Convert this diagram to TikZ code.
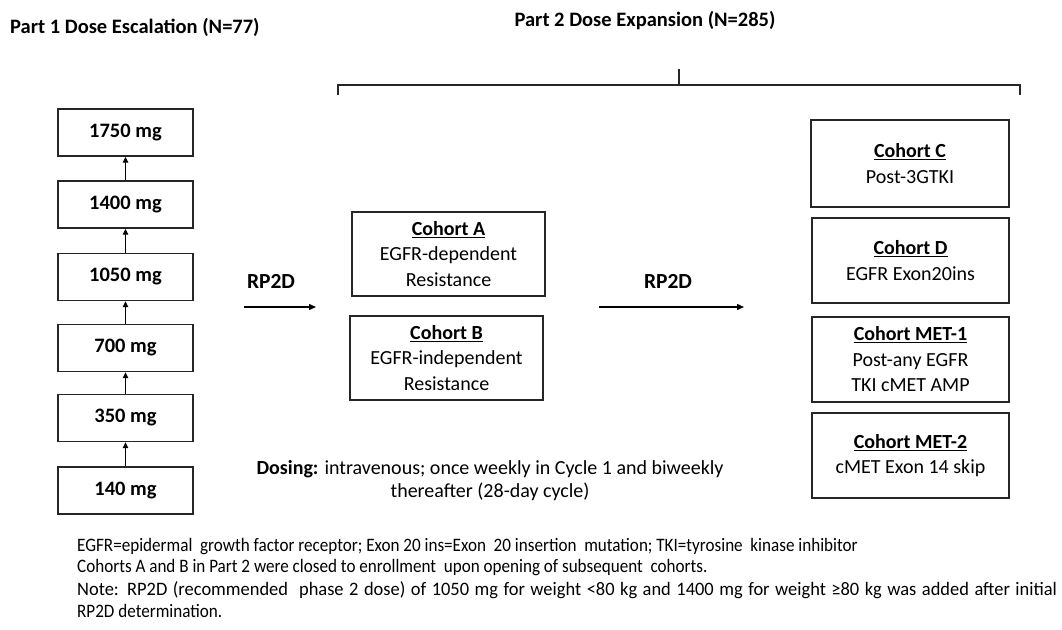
\documentclass[tikz,border=0pt]{standalone}
\usepackage{fontspec}
\setmainfont{Carlito}
\usetikzlibrary{arrows.meta}
\newcommand\ftfont{\fontsize{19}{21}\selectfont}
\newcommand\ftline[3]{\scalebox{#1}[1]{\makebox[#2pt][s]{\ftfont #3}}}
\newcommand\ftnat[1]{\scalebox{0.9}[1]{\ftfont #1}}
\begin{document}
\begin{tikzpicture}[x=1pt,y=-1pt,
  dosebox/.style={draw=black!85,line width=1.3pt,minimum width=135pt,minimum height=47pt,inner sep=0pt,font=\fontsize{20.5}{25}\selectfont\bfseries},
  cbox/.style={draw=black!85,line width=1.3pt,inner sep=0pt,align=center,font=\fontsize{20}{25.5}\selectfont},
  uparrow/.style={-{Triangle[length=6pt,width=5.5pt]},line width=1.3pt},
  rarrow/.style={-{Triangle[length=7pt,width=6pt]},line width=1.3pt},
  hdr/.style={font=\fontsize{20.5}{24}\selectfont\bfseries,inner sep=0pt},
  lbl/.style={font=\fontsize{21.5}{24}\selectfont\bfseries,inner sep=0pt},
  foot/.style={anchor=west,inner sep=0pt,font=\ftfont}]
\useasboundingbox (0,0) rectangle (1062,629);
\fill[white] (0,0) rectangle (1062,629);
% headers
\node[hdr,anchor=west] (h1) at (10,27) {Part 1 Dose Escalation (N=77)};
\node[hdr] (h2) at (645,21) {Part 2 Dose Expansion (N=285)};
% bracket
\coordinate (bl) at (338,95);
\coordinate (br) at (1020,95);
\coordinate (bt) at (679,69);
\draw[line width=1.3pt,black!85] (bl) -- (338,85) -- (1020,85) -- (br);
\draw[line width=1.3pt,black!85] (bt) -- (679,85);
% dose boxes
\node[dosebox] (d1750) at (125.5,132.5) {1750 mg};
\node[dosebox] (d1400) at (125.5,204.5) {1400 mg};
\node[dosebox] (d1050) at (125.5,277) {1050 mg};
\node[dosebox] (d700) at (125.5,348) {700 mg};
\node[dosebox] (d350) at (125.5,418) {350 mg};
\node[dosebox] (d140) at (125.5,490.5) {140 mg};
\draw[uparrow] (d140) -- (d350);
\draw[uparrow] (d350) -- (d700);
\draw[uparrow] (d700) -- (d1050);
\draw[uparrow] (d1050) -- (d1400);
\draw[uparrow] (d1400) -- (d1750);
% RP2D 1
\node[lbl] (rp1) at (271,281) {RP2D};
\coordinate (r1s) at (244,307);
\coordinate (r1e) at (316,307);
\draw[rarrow] (r1s) -- (r1e);
% cohorts A, B
\node[cbox,minimum width=193pt,minimum height=84pt] (cA) at (448.5,254) {\underline{\textbf{Cohort A}}\\EGFR-dependent\\Resistance};
\node[cbox,minimum width=193pt,minimum height=84pt] (cB) at (446.5,358) {\underline{\textbf{Cohort B}}\\EGFR-independent\\Resistance};
% RP2D 2
\node[lbl] (rp2) at (668,281) {RP2D};
\coordinate (r2s) at (599,307);
\coordinate (r2e) at (744,307);
\draw[rarrow] (r2s) -- (r2e);
% cohorts C, D, MET
\node[cbox,minimum width=198pt,minimum height=87pt] (cC) at (910,163.5) {\underline{\textbf{Cohort C}}\\Post-3GTKI};
\node[cbox,minimum width=197pt,minimum height=85pt] (cD) at (910.5,260.5) {\underline{\textbf{Cohort D}}\\EGFR Exon20ins};
\node[cbox,minimum width=197pt,minimum height=85pt] (cM1) at (910.5,359.5) {\underline{\textbf{Cohort MET-1}}\\Post-any EGFR\\TKI cMET AMP};
\node[cbox,minimum width=197pt,minimum height=85pt] (cM2) at (910.5,455.5) {\underline{\textbf{Cohort MET-2}}\\cMET Exon 14 skip};
% dosing
\node[align=center,inner sep=0pt,font=\fontsize{20}{23}\selectfont] (dose) at (490,480.5) {\textbf{Dosing:} intravenous; once weekly in Cycle 1 and biweekly\\thereafter (28-day cycle)};
% footer
\node[foot] (f1) at (77,547) {\ftnat{EGFR=epidermal\ \ growth factor receptor; Exon 20 ins=Exon\ \ 20 insertion\ \ mutation; TKI=tyrosine\ \ kinase inhibitor}};
\node[foot] (f2) at (77,568) {\ftnat{Cohorts A and B in Part 2 were closed to enrollment\ \ upon opening of subsequent\ \ cohorts.}};
\node[foot] (f3) at (77,590) {\ftline{0.97}{1010}{Note: RP2D (recommended\ \ phase 2 dose) of 1050 mg for weight <80 kg and 1400 mg for weight ≥80 kg was added after initial}};
\node[foot] (f4) at (77,611) {\ftnat{RP2D determination.}};
\end{tikzpicture}
\end{document}
